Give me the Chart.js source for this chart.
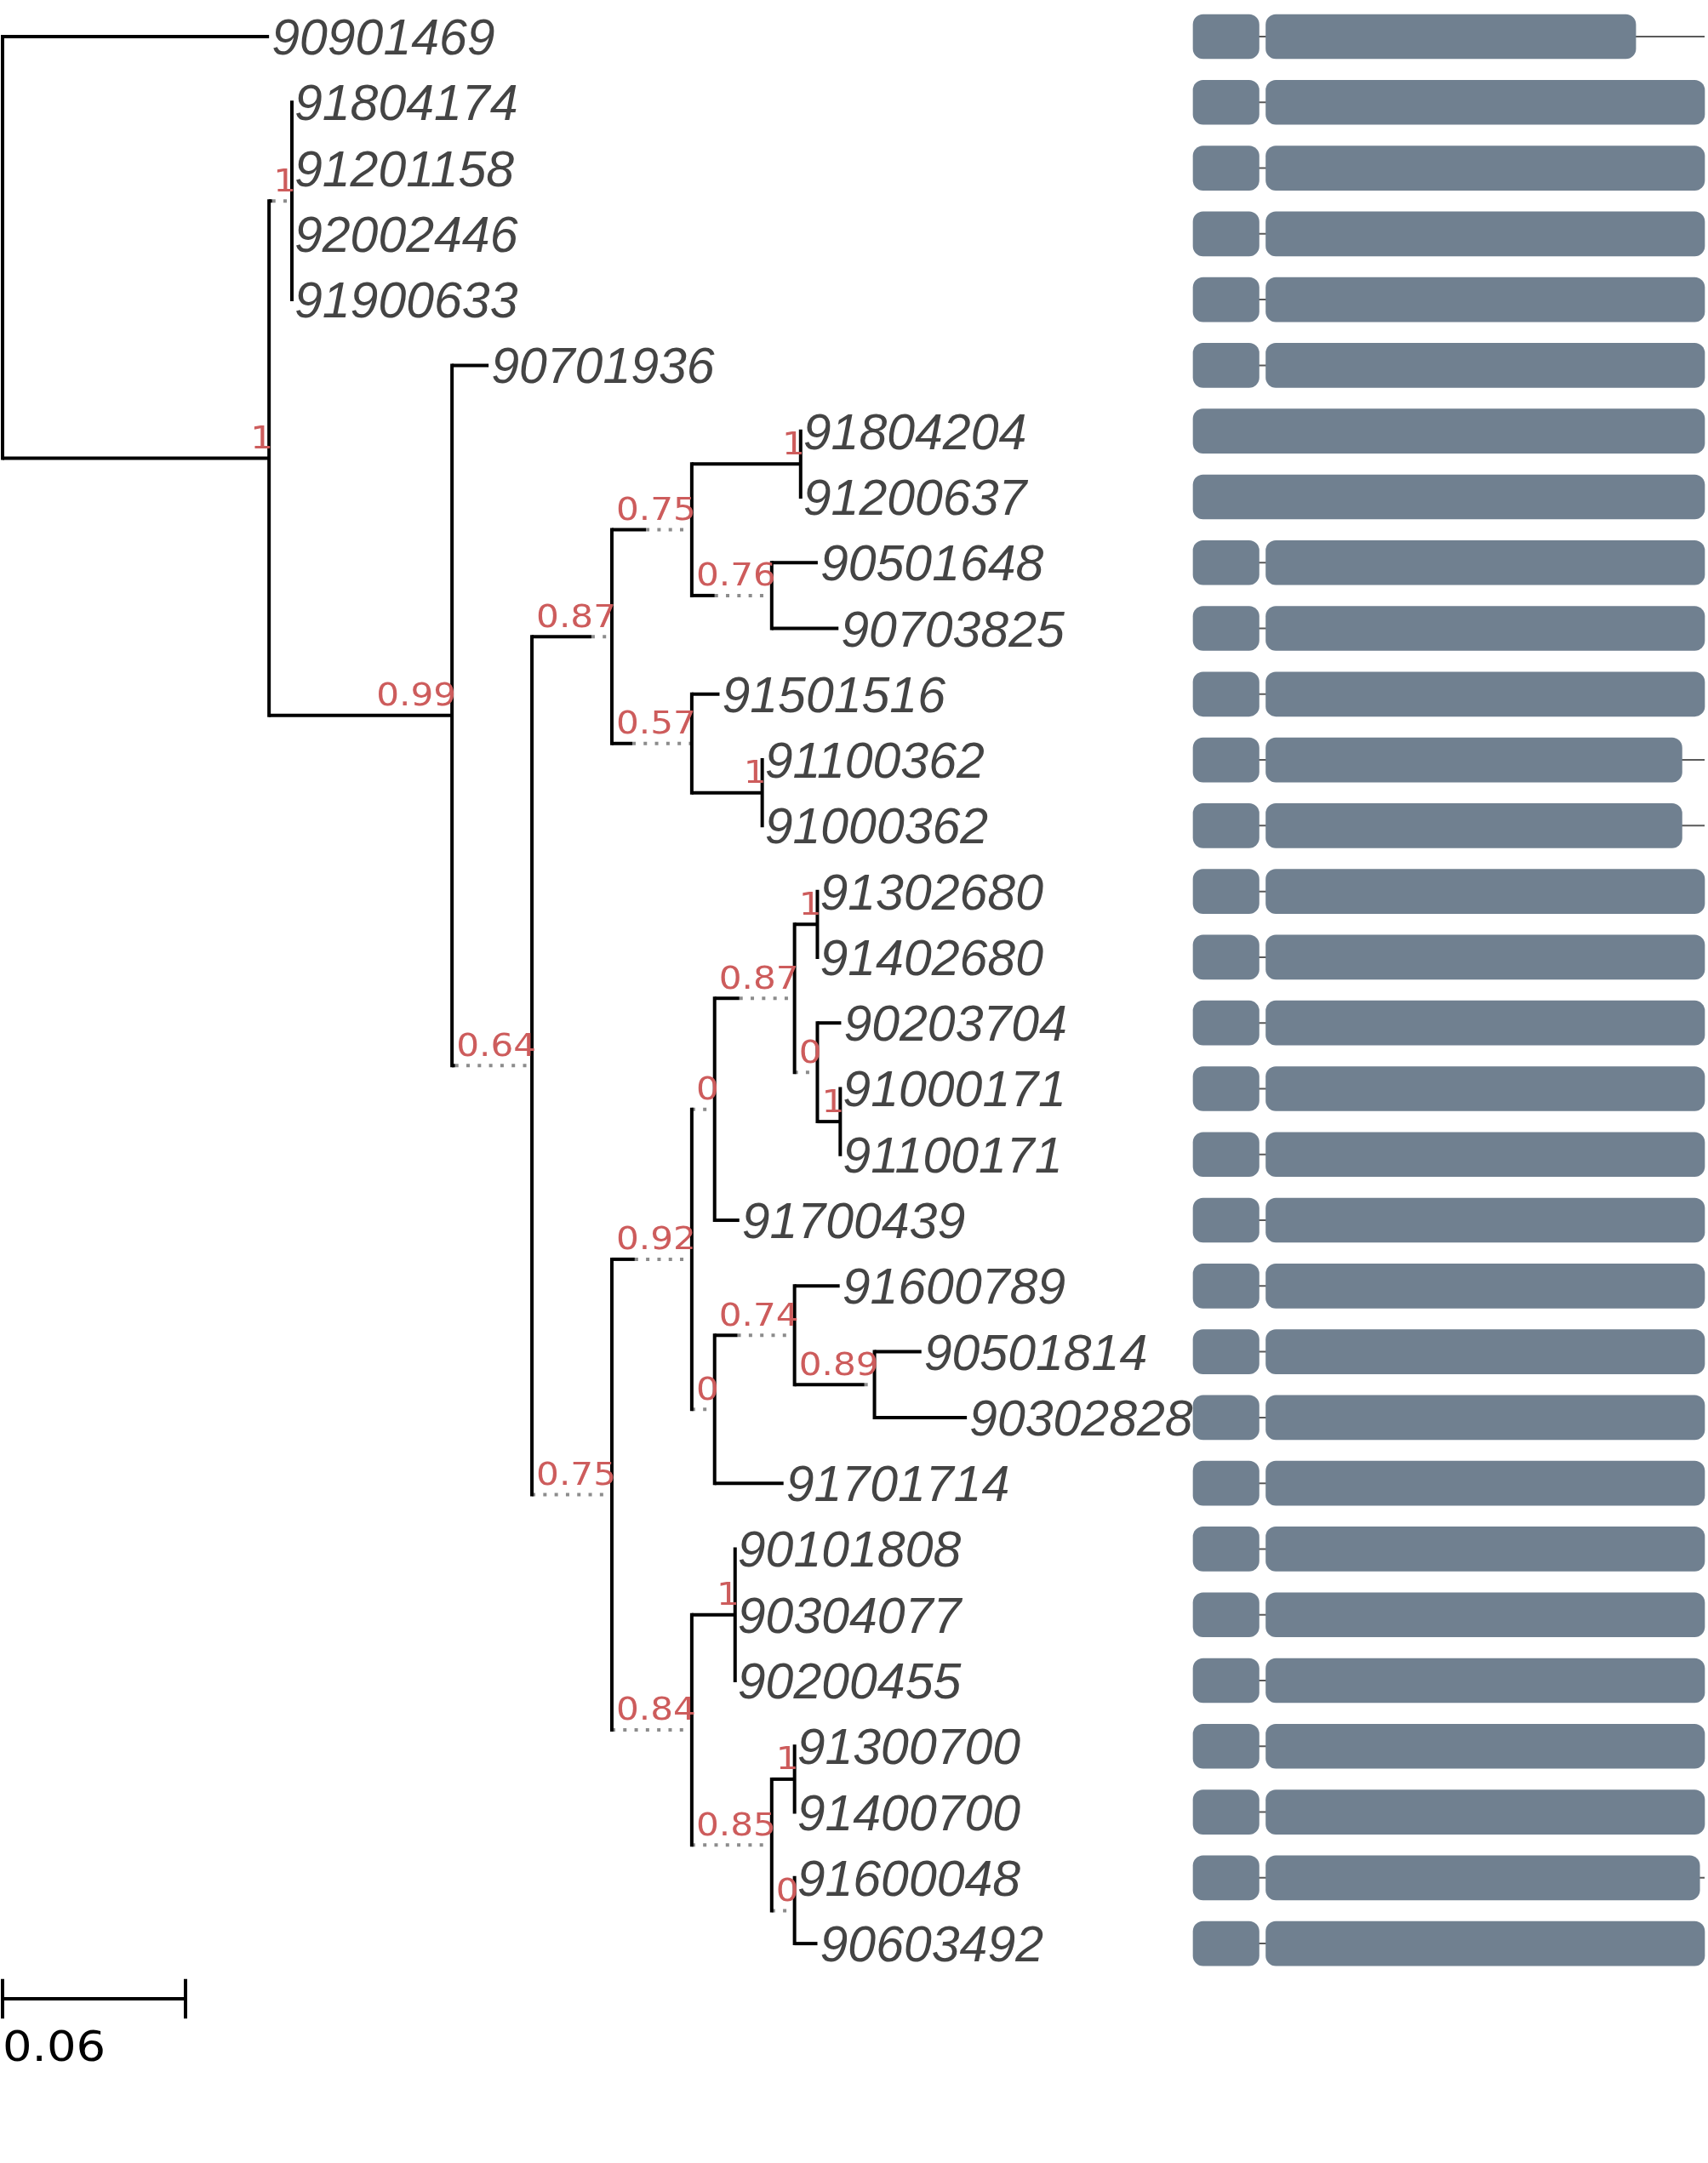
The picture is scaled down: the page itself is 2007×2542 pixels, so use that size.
<!DOCTYPE html>
<html>
<head>
<meta charset="utf-8">
<script src="https://cdn.jsdelivr.net/npm/chart.js@4.4.0/dist/chart.umd.min.js"></script>
<style>
    html, body { margin: 0; padding: 0; background: #ffffff; }
    #wrap { width: 2007px; height: 2542px; }
</style>
</head>
<body>
<div id="wrap"><canvas id="myChart" width="2007" height="2542"></canvas></div>
<script>
// Hojas del árbol, en el orden de las filas
const tipLabels = ['90901469', '91804174', '91201158', '92002446', '91900633', '90701936',
    '91804204', '91200637', '90501648', '90703825', '91501516', '91100362', '91000362',
    '91302680', '91402680', '90203704', '91000171', '91100171', '91700439', '91600789',
    '90501814', '90302828', '91701714', '90101808', '90304077', '90200455', '91300700',
    '91400700', '91600048', '90603492'];
const tipParent = ['root', 'B', 'B', 'B', 'B', 'C', 'G', 'G', 'H', 'H', 'I', 'J', 'J', 'O', 'O',
    'P', 'Q', 'Q', 'M', 'S', 'T', 'T', 'R', 'V', 'V', 'V', 'X', 'X', 'Y', 'Y'];
const tipLength = [0.0874, 0, 0, 0, 0, 0.0120, 0, 0, 0.0151, 0.0219, 0.0091, 0, 0, 0, 0,
    0.0078, 0, 0, 0.0081, 0.0148, 0.0154, 0.0303, 0.0226, 0, 0, 0, 0, 0, 0, 0.0075];

// Nodos internos (el padre siempre va antes que el hijo)
const nodeNames   = ['root', 'A', 'B', 'C', 'D', 'E', 'F', 'G', 'H', 'I', 'J', 'K', 'L',
    'M', 'N', 'O', 'P', 'Q', 'R', 'S', 'T', 'U', 'V', 'W', 'X', 'Y'];
const nodeParent  = [null, 'root', 'A', 'A', 'C', 'D', 'E', 'F', 'F', 'E', 'I', 'D', 'K',
    'L', 'M', 'N', 'N', 'P', 'L', 'R', 'S', 'K', 'U', 'U', 'W', 'W'];
const nodeLength  = [0, 0.0874, 0.001, 0.0600, 0.001, 0.0195, 0.0112, 0.0357, 0.0075, 0.0067,
    0.0231, 0, 0.0075, 0, 0.0081, 0.0073, 0, 0.0075, 0, 0.0075, 0.0229, 0, 0.0142, 0, 0.0075, 0];
const nodeSupport = [null, 1, 1, 0.99, 0.64, 0.87, 0.75, 1, 0.76, 0.57, 1, 0.75, 0.92,
    0, 0.87, 1, 0, 1, 0, 0.74, 0.89, 0.84, 1, 0.85, 1, 0];

const scaleBarValue = 0.06;

// Dominios de cada proteína (posiciones en aa)
const proteinLength = 520;
const domain1Start = [0, 0, 0, 0, 0, 0, 0, 0, 0, 0, 0, 0, 0, 0, 0, 0, 0, 0, 0, 0, 0, 0, 0, 0, 0, 0, 0, 0, 0, 0];
const domain1End   = [67, 67, 67, 67, 67, 67, 520, 520, 67, 67, 67, 67, 67, 67, 67, 67, 67, 67,
    67, 67, 67, 67, 67, 67, 67, 67, 67, 67, 67, 67];
const domain2Start = [74, 74, 74, 74, 74, 74, null, null, 74, 74, 74, 74, 74, 74, 74, 74, 74, 74,
    74, 74, 74, 74, 74, 74, 74, 74, 74, 74, 74, 74];
const domain2End   = [450, 520, 520, 520, 520, 520, null, null, 520, 520, 520, 497, 497, 520, 520,
    520, 520, 520, 520, 520, 520, 520, 520, 520, 520, 520, 520, 520, 515, 520];

// Maquetación
const W = 2007, H = 2542;
const PX_PER_UNIT = 3583, ROOT_PX = 3;
const FIRST_ROW_PX = 43, ROW_PX = 77.28;
const GENE_PX0 = 1402, GENE_PX1 = 2003;
const SUPPORT_FONT = '38px "DejaVu Sans"';
const STRETCH = 1.11;

const measureCtx = document.createElement('canvas').getContext('2d');
measureCtx.font = SUPPORT_FONT;

function faceUnits(s) {
    if (s === null) return 0;
    return measureCtx.measureText(String(s)).width * STRETCH / PX_PER_UNIT;
}

// Posiciones x de los nodos
const nodeX = {};
nodeNames.forEach((n, i) => {
    if (nodeParent[i] === null) {
        nodeX[n] = 0;
        return;
    }
    nodeX[n] = nodeX[nodeParent[i]] + Math.max(nodeLength[i], faceUnits(nodeSupport[i]));
});
const tipX = tipLabels.map((t, r) => nodeX[tipParent[r]] + tipLength[r]);

// Posiciones y de los nodos (centro entre primer y último hijo)
const childYs = {};
const nodeY = {};
nodeNames.forEach(n => childYs[n] = []);
tipLabels.forEach((t, r) => childYs[tipParent[r]].push(r));
for (let i = nodeNames.length - 1; i >= 0; i--) {
    const ys = childYs[nodeNames[i]];
    nodeY[nodeNames[i]] = (Math.min(...ys) + Math.max(...ys)) / 2;
    if (nodeParent[i] !== null) childYs[nodeParent[i]].push(nodeY[nodeNames[i]]);
}

function segment(x0, y0, x1, y1, dotted, cap) {
    return {
        type: 'line',
        xAxisID: 'x',
        yAxisID: 'y',
        data: [{x: x0, y: y0}, {x: x1, y: y1}],
        borderColor: dotted ? '#8c8c8c' : '#000000',
        borderWidth: 4,
        borderDash: dotted ? [4, 9.3] : [],
        borderCapStyle: cap || 'butt',
        pointRadius: 0,
        pointHoverRadius: 0,
        fill: false,
        tension: 0,
        order: 0
    };
}

const datasets = [];

// Ramas de los nodos internos
nodeNames.forEach((n, i) => {
    const ys = childYs[n];
    datasets.push(segment(nodeX[n], Math.min(...ys), nodeX[n], Math.max(...ys), false, 'square'));
    if (nodeParent[i] === null) return;
    const px = nodeX[nodeParent[i]];
    const solidEnd = px + nodeLength[i];
    if (nodeLength[i] > 0) datasets.push(segment(px, nodeY[n], solidEnd, nodeY[n], false));
    if (nodeX[n] - solidEnd > 1e-6) datasets.push(segment(solidEnd, nodeY[n], nodeX[n], nodeY[n], true));
});

// Ramas de las hojas
tipLabels.forEach((t, r) => {
    if (tipLength[r] > 0) datasets.push(segment(nodeX[tipParent[r]], r, tipX[r], r, false));
});

// Barra de escala
const scaleRow = tipLabels.length - 1 + 0.84;
datasets.push(segment(0, scaleRow, scaleBarValue, scaleRow, false));
datasets.push(segment(0, scaleRow - 0.3, 0, scaleRow + 0.3, false));
datasets.push(segment(scaleBarValue, scaleRow - 0.3, scaleBarValue, scaleRow + 0.3, false));

// Línea de cada proteína
tipLabels.forEach((t, r) => {
    datasets.push({
        type: 'line',
        xAxisID: 'xg',
        yAxisID: 'y',
        data: [{x: 0, y: r}, {x: proteinLength, y: r}],
        borderColor: '#5a5a5a',
        borderWidth: 2,
        pointRadius: 0,
        pointHoverRadius: 0,
        fill: false,
        order: 2
    });
});

// Dominios
const barStyle = {
    type: 'bar',
    indexAxis: 'y',
    xAxisID: 'xg',
    yAxisID: 'y',
    grouped: false,
    barThickness: 52,
    borderRadius: 12,
    borderSkipped: false,
    backgroundColor: '#708090',
    borderWidth: 0,
    order: 1
};
datasets.push(Object.assign({}, barStyle, {
    data: tipLabels.map((t, r) => ({y: r, x: [domain1Start[r], domain1End[r]]}))
}));
datasets.push(Object.assign({}, barStyle, {
    data: tipLabels.map((t, r) => ({y: r, x: [domain2Start[r], domain2End[r]]}))
        .filter(d => d.x[0] !== null)
}));

const textPlugin = {
    id: 'treeText',
    afterDatasetsDraw(chart) {
        const ctx = chart.ctx;
        const xs = chart.scales.x;
        const ys = chart.scales.y;
        ctx.save();

        // Nombres de las hojas
        ctx.font = 'italic 59px "Liberation Sans"';
        ctx.fillStyle = '#444444';
        ctx.textAlign = 'left';
        ctx.textBaseline = 'alphabetic';
        tipLabels.forEach((t, r) => {
            ctx.fillText(t, xs.getPixelForValue(tipX[r]) + 3, ys.getPixelForValue(r) + 21);
        });

        // Soporte de cada nodo
        ctx.font = SUPPORT_FONT;
        ctx.fillStyle = '#cd5c5c';
        ctx.textAlign = 'right';
        nodeNames.forEach((n, i) => {
            if (nodeSupport[i] === null) return;
            ctx.save();
            ctx.translate(xs.getPixelForValue(nodeX[n]) + 5, ys.getPixelForValue(nodeY[n]) - 11.6);
            ctx.scale(STRETCH, 1);
            ctx.fillText(String(nodeSupport[i]), 0, 0);
            ctx.restore();
        });

        // Texto de la escala
        ctx.font = '49px "DejaVu Sans"';
        ctx.fillStyle = '#000000';
        ctx.textAlign = 'left';
        ctx.translate(xs.getPixelForValue(0), ys.getPixelForValue(scaleRow) + 73);
        ctx.scale(STRETCH, 1);
        ctx.fillText(String(scaleBarValue), 0, 0);
        ctx.restore();
    }
};

const xMin = -ROOT_PX / PX_PER_UNIT;
const geneUnit = (GENE_PX1 - GENE_PX0) / proteinLength;
const gMin = -GENE_PX0 / geneUnit;
const yMin = -FIRST_ROW_PX / ROW_PX;

const myChart = new Chart(document.getElementById('myChart').getContext('2d'), {
    type: 'scatter',
    data: { datasets: datasets },
    options: {
        responsive: false,
        devicePixelRatio: 1,
        animation: false,
        events: [],
        layout: { padding: 0 },
        plugins: {
            legend: { display: false },
            tooltip: { enabled: false },
            title: { display: false }
        },
        scales: {
            x: { type: 'linear', display: false, offset: false, min: xMin, max: xMin + W / PX_PER_UNIT },
            xg: { type: 'linear', axis: 'x', display: false, offset: false, min: gMin, max: gMin + W / geneUnit },
            y: { type: 'linear', display: false, offset: false, reverse: true, min: yMin, max: yMin + H / ROW_PX }
        }
    },
    plugins: [textPlugin]
});
</script>
</body>
</html>
